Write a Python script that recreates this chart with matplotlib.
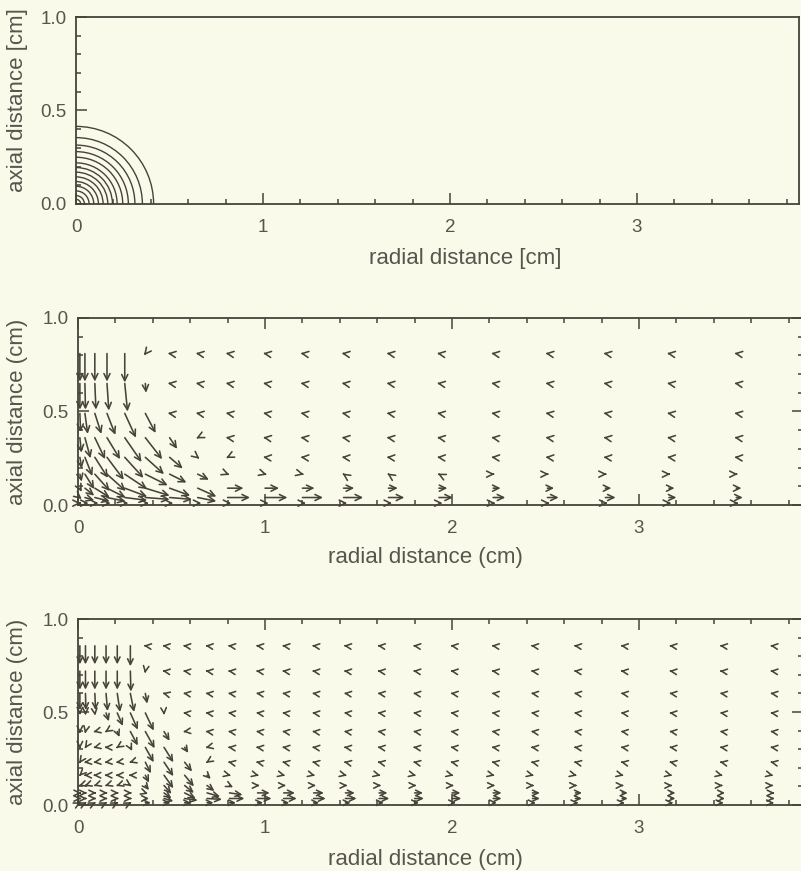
import matplotlib
matplotlib.use("Agg")
import matplotlib.pyplot as plt
from matplotlib.patches import Arc
from matplotlib.ticker import MultipleLocator

# ---------------- data ----------------
# panel 1: radii (cm) of the concentric quarter-circle contours
ring_radii = [0.415, 0.355, 0.315, 0.28, 0.25, 0.22, 0.195, 0.17, 0.145, 0.12, 0.095, 0.07, 0.045, 0.025]

# panel 2: coarse velocity field (arrow components in cm of plot length)
p2_r = [0.01, 0.037, 0.09, 0.155, 0.25, 0.36, 0.49, 0.64, 0.80, 1.00, 1.20, 1.42, 1.66, 1.93, 2.22, 2.51, 2.82, 3.16, 3.52]
p2_z = [0.81, 0.65, 0.49, 0.36, 0.255, 0.165, 0.09, 0.04, 0.01]
p2_u = [
    [0.0, 0.0, 0.0, 0.0, 0.0, -0.008, -0.010, -0.010, -0.010, -0.010, -0.010, -0.010, -0.010, -0.010, -0.010, -0.010, -0.010, -0.010, -0.010],
    [0.0, 0.003, 0.006, 0.010, 0.015, 0.004, -0.010, -0.010, -0.010, -0.010, -0.010, -0.010, -0.010, -0.010, -0.010, -0.010, -0.010, -0.010, -0.010],
    [0.004, 0.015, 0.035, 0.045, 0.060, 0.055, -0.010, -0.010, -0.010, -0.010, -0.010, -0.010, -0.010, -0.010, -0.010, -0.010, -0.010, -0.010, -0.010],
    [0.008, 0.030, 0.055, 0.070, 0.090, 0.090, 0.040, -0.008, -0.010, -0.010, -0.010, -0.010, -0.010, -0.010, -0.010, -0.010, -0.010, -0.010, -0.010],
    [0.010, 0.040, 0.070, 0.090, 0.100, 0.100, 0.070, 0.010, -0.008, -0.010, -0.010, -0.010, -0.010, -0.010, -0.010, -0.010, -0.010, -0.010, -0.010],
    [0.010, 0.050, 0.080, 0.100, 0.120, 0.120, 0.090, 0.060, 0.010, 0.010, 0.008, -0.006, -0.006, -0.006, 0.008, 0.008, 0.008, 0.008, 0.008],
    [0.010, 0.050, 0.080, 0.100, 0.120, 0.130, 0.110, 0.100, 0.085, 0.075, 0.065, 0.057, 0.050, 0.045, 0.040, 0.036, 0.032, 0.030, 0.028],
    [0.010, 0.050, 0.080, 0.100, 0.120, 0.130, 0.120, 0.100, 0.120, 0.120, 0.110, 0.105, 0.085, 0.075, 0.065, 0.060, 0.055, 0.040, 0.035],
    [0.005, 0.020, 0.020, 0.020, 0.020, 0.020, 0.020, 0.020, 0.020, 0.020, 0.020, 0.020, 0.020, 0.020, 0.012, 0.012, 0.012, 0.012, 0.012],
]
p2_w = [
    [-0.150, -0.150, -0.150, -0.150, -0.155, -0.010, 0.0015, 0.0015, 0.0015, 0.0015, 0.0015, 0.0015, 0.0015, 0.0015, 0.0015, 0.0015, 0.0015, 0.0015, 0.0015],
    [-0.140, -0.140, -0.140, -0.145, -0.150, -0.050, 0.0015, 0.0015, 0.0015, 0.0015, 0.0015, 0.0015, 0.0015, 0.0015, 0.0015, 0.0015, 0.0015, 0.0015, 0.0015],
    [-0.100, -0.110, -0.110, -0.115, -0.130, -0.105, 0.0015, 0.0015, 0.0015, 0.0015, 0.0015, 0.0015, 0.0015, 0.0015, 0.0015, 0.0015, 0.0015, 0.0015, 0.0015],
    [-0.080, -0.110, -0.115, -0.115, -0.130, -0.115, -0.060, -0.004, 0.0015, 0.0015, 0.0015, 0.0015, 0.0015, 0.0015, 0.0015, 0.0015, 0.0015, 0.0015, 0.0015],
    [-0.060, -0.100, -0.110, -0.120, -0.110, -0.090, -0.060, -0.008, -0.004, 0.001, 0.001, 0.001, 0.001, 0.001, 0.001, 0.001, 0.001, 0.001, 0.001],
    [-0.040, -0.080, -0.090, -0.090, -0.080, -0.060, -0.045, -0.030, -0.004, -0.003, -0.002, 0.004, 0.004, 0.003, 0.0, 0.0, 0.0, 0.0, 0.0],
    [-0.020, -0.040, -0.050, -0.050, -0.045, -0.040, -0.040, -0.045, 0.0, 0.0, 0.0, 0.0, 0.0, 0.0, 0.0, 0.0, 0.0, 0.0, 0.0],
    [-0.008, -0.015, -0.020, -0.020, -0.015, -0.010, -0.010, -0.020, 0.0, 0.0, 0.0, 0.0, 0.0, 0.0, 0.0, 0.0, 0.0, 0.0, 0.0],
    [0.0, 0.0, 0.0, 0.0, 0.0, 0.0, 0.0, 0.0, 0.0, 0.0, 0.0, 0.0, 0.0, 0.0, 0.0, 0.0, 0.0, 0.0, 0.0],
]

# panel 3: fine velocity field
p3_r = [0.01, 0.04, 0.09, 0.15, 0.21, 0.28, 0.36, 0.46, 0.57, 0.69, 0.81, 0.96, 1.10, 1.26, 1.43, 1.61, 1.80, 2.00, 2.22, 2.43, 2.66, 2.91, 3.17, 3.44, 3.71]
p3_z = [0.856, 0.72, 0.60, 0.495, 0.395, 0.31, 0.23, 0.16, 0.105, 0.065, 0.035, 0.012]
p3_u = [
    [0.0, 0.0, 0.0, 0.0, 0.0, 0.0, -0.008, -0.008, -0.008, -0.008, -0.008, -0.008, -0.008, -0.008, -0.008, -0.008, -0.008, -0.008, -0.008, -0.008, -0.008, -0.008, -0.008, -0.008, -0.008],
    [0.0, 0.0, 0.0, 0.0, 0.0, 0.003, -0.002, -0.008, -0.008, -0.008, -0.008, -0.008, -0.008, -0.008, -0.008, -0.008, -0.008, -0.008, -0.008, -0.008, -0.008, -0.008, -0.008, -0.008, -0.008],
    [0.0, 0.002, 0.004, 0.008, 0.015, 0.020, 0.010, -0.008, -0.008, -0.008, -0.008, -0.008, -0.008, -0.008, -0.008, -0.008, -0.008, -0.008, -0.008, -0.008, -0.008, -0.008, -0.008, -0.008, -0.008],
    [0.0, 0.0, 0.002, 0.015, 0.030, 0.040, 0.045, 0.001, -0.008, -0.008, -0.008, -0.008, -0.008, -0.008, -0.008, -0.008, -0.008, -0.008, -0.008, -0.008, -0.008, -0.008, -0.008, -0.008, -0.008],
    [0.0, -0.002, -0.008, -0.006, 0.012, 0.040, 0.050, 0.030, -0.008, -0.008, -0.008, -0.008, -0.008, -0.008, -0.008, -0.008, -0.008, -0.008, -0.008, -0.008, -0.008, -0.008, -0.008, -0.008, -0.008],
    [0.0, -0.004, -0.008, -0.008, -0.006, 0.010, 0.045, 0.050, 0.020, -0.008, -0.008, -0.008, -0.008, -0.008, -0.008, -0.008, -0.008, -0.008, -0.008, -0.008, -0.008, -0.008, -0.008, -0.008, -0.008],
    [-0.004, -0.008, -0.008, -0.008, -0.008, -0.006, 0.030, 0.050, 0.040, -0.006, -0.008, -0.008, -0.008, -0.008, -0.008, -0.008, -0.008, -0.008, -0.008, -0.008, -0.008, -0.008, -0.008, -0.008, -0.008],
    [-0.004, -0.008, -0.008, -0.008, -0.008, -0.008, 0.020, 0.050, 0.050, 0.020, 0.008, 0.008, 0.008, 0.008, 0.008, 0.008, 0.008, 0.008, 0.008, 0.008, 0.008, 0.008, 0.008, 0.008, 0.008],
    [-0.006, -0.006, -0.006, -0.006, -0.006, 0.006, 0.020, 0.040, 0.050, 0.040, 0.020, 0.012, 0.012, 0.012, 0.011, 0.011, 0.010, 0.010, 0.010, 0.009, 0.009, 0.008, 0.008, 0.008, 0.008],
    [0.008, 0.008, 0.008, 0.008, 0.008, 0.008, 0.015, 0.040, 0.060, 0.070, 0.070, 0.065, 0.060, 0.055, 0.050, 0.045, 0.045, 0.045, 0.045, 0.040, 0.035, 0.030, 0.025, 0.020, 0.015],
    [0.008, 0.008, 0.008, 0.008, 0.008, 0.008, 0.020, 0.050, 0.070, 0.080, 0.080, 0.075, 0.070, 0.065, 0.060, 0.055, 0.050, 0.050, 0.045, 0.040, 0.035, 0.030, 0.025, 0.020, 0.015],
    [0.006, 0.006, 0.006, 0.006, 0.006, 0.006, 0.030, 0.035, 0.035, 0.035, 0.035, 0.030, 0.030, 0.030, 0.028, 0.026, 0.024, 0.022, 0.020, 0.018, 0.016, 0.014, 0.013, 0.012, 0.012],
]
p3_w = [
    [-0.100, -0.100, -0.100, -0.100, -0.100, -0.110, 0.001, 0.001, 0.001, 0.001, 0.001, 0.001, 0.001, 0.001, 0.001, 0.001, 0.001, 0.001, 0.001, 0.001, 0.001, 0.001, 0.001, 0.001, 0.001],
    [-0.100, -0.100, -0.100, -0.100, -0.100, -0.110, -0.012, 0.001, 0.001, 0.001, 0.001, 0.001, 0.001, 0.001, 0.001, 0.001, 0.001, 0.001, 0.001, 0.001, 0.001, 0.001, 0.001, 0.001, 0.001],
    [-0.090, -0.090, -0.090, -0.095, -0.100, -0.100, -0.055, 0.002, 0.001, 0.001, 0.001, 0.001, 0.001, 0.001, 0.001, 0.001, 0.001, 0.001, 0.001, 0.001, 0.001, 0.001, 0.001, 0.001, 0.001],
    [-0.010, -0.012, -0.015, -0.045, -0.070, -0.090, -0.095, -0.012, 0.001, 0.001, 0.001, 0.001, 0.001, 0.001, 0.001, 0.001, 0.001, 0.001, 0.001, 0.001, 0.001, 0.001, 0.001, 0.001, 0.001],
    [-0.010, -0.010, -0.002, -0.004, -0.030, -0.075, -0.090, -0.050, -0.001, 0.001, 0.001, 0.001, 0.001, 0.001, 0.001, 0.001, 0.001, 0.001, 0.001, 0.001, 0.001, 0.001, 0.001, 0.001, 0.001],
    [-0.008, -0.006, -0.002, 0.0, -0.004, -0.020, -0.080, -0.080, -0.030, -0.002, 0.001, 0.001, 0.001, 0.001, 0.001, 0.001, 0.001, 0.001, 0.001, 0.001, 0.001, 0.001, 0.001, 0.001, 0.001],
    [-0.006, -0.001, -0.001, -0.001, -0.001, -0.002, -0.060, -0.075, -0.050, -0.004, 0.0015, 0.0015, 0.0015, 0.0015, 0.0015, 0.0015, 0.0015, 0.0015, 0.0015, 0.0015, 0.0015, 0.0015, 0.0015, 0.0015, 0.0015],
    [-0.004, 0.0, 0.0, 0.0, 0.0, 0.0, -0.040, -0.070, -0.060, -0.020, -0.002, -0.002, -0.002, -0.002, -0.002, -0.002, -0.002, -0.002, -0.002, -0.002, -0.002, -0.002, -0.002, -0.002, -0.002],
    [-0.002, -0.002, -0.002, -0.002, -0.002, -0.004, -0.025, -0.045, -0.040, -0.030, -0.010, 0.0, 0.0, 0.0, 0.0, 0.0, 0.0, 0.0, 0.0, 0.0, 0.0, 0.0, 0.0, 0.0, 0.0],
    [0.0, 0.0, 0.0, 0.0, 0.0, 0.0, -0.005, -0.030, -0.030, -0.020, -0.010, 0.0, 0.0, 0.0, 0.0, 0.0, 0.0, 0.0, 0.0, 0.0, 0.0, 0.0, 0.0, 0.0, 0.0],
    [0.0, 0.0, 0.0, 0.0, 0.0, 0.0, 0.0, -0.015, -0.010, -0.005, 0.0, 0.0, 0.0, 0.0, 0.0, 0.0, 0.0, 0.0, 0.0, 0.0, 0.0, 0.0, 0.0, 0.0, 0.0],
    [0.003, 0.003, 0.003, 0.003, 0.003, 0.003, 0.0, 0.0, 0.0, 0.0, 0.0, 0.0, 0.0, 0.0, 0.0, 0.0, 0.0, 0.0, 0.0, 0.0, 0.0, 0.0, 0.0, 0.0, 0.0],
]

x_ticks = [0, 1, 2, 3]
y_ticks = [0.0, 0.5, 1.0]
x_ticklabels = ["0", "1", "2", "3"]
y_ticklabels = ["0.0", "0.5", "1.0"]

# ---------------- style ----------------
BG = "#fafaeb"
INK = "#46433a"
TXT = "#57554c"
plt.rcParams["font.family"] = ["Liberation Sans", "DejaVu Sans"]

W, H = 801, 871
fig = plt.figure(figsize=(W / 100, H / 100), dpi=100, facecolor=BG)


def px_axes(left, right, top, bottom):
    return fig.add_axes([left / W, 1 - bottom / H, (right - left) / W, (bottom - top) / H])


def style_axes(ax, xmax, all_sides):
    ax.set_facecolor(BG)
    ax.set_xlim(0, xmax)
    ax.set_ylim(0, 1.0)
    ax.set_xticks(x_ticks)
    ax.set_xticklabels(x_ticklabels)
    ax.set_yticks(y_ticks)
    ax.set_yticklabels(y_ticklabels)
    ax.xaxis.set_minor_locator(MultipleLocator(0.2))
    ax.yaxis.set_minor_locator(MultipleLocator(0.1))
    ax.tick_params(which="both", direction="in", color=INK, width=1.1,
                   top=all_sides, right=all_sides, labelsize=13.5, labelcolor=TXT)
    ax.tick_params(axis="x", which="both", pad=11)
    ax.tick_params(axis="y", which="both", pad=7)
    ax.tick_params(which="major", length=8)
    ax.tick_params(which="minor", length=3.8)
    for s in ax.spines.values():
        s.set_color(INK)
        s.set_linewidth(1.3)


def draw_field(ax, rs, zs, us, ws, ms):
    for i, z in enumerate(zs):
        for j, r in enumerate(rs):
            u = us[i][j]
            w = ws[i][j]
            ax.annotate("", xy=(r + u, z + w), xytext=(r, z), xycoords="data",
                        annotation_clip=False,
                        arrowprops=dict(arrowstyle="->,head_length=0.45,head_width=0.22",
                                        color=INK, lw=1.15, shrinkA=0, shrinkB=0,
                                        mutation_scale=ms, clip_on=True))


# ---------- panel 1 ----------
ax1 = px_axes(76, 799, 17, 204)
style_axes(ax1, (799 - 76) / 187.0, False)
for rad in ring_radii:
    ax1.add_patch(Arc((0, 0), 2 * rad, 2 * rad, theta1=0, theta2=90, color=INK, lw=1.0))
ax1.set_xlabel("radial distance [cm]", fontsize=16, color=TXT)
ax1.set_ylabel("axial distance [cm]", fontsize=16, color=TXT)
ax1.xaxis.set_label_coords((465 - 76) / 723.0, (204 - 248) / 187.0)
ax1.yaxis.set_label_coords((28 - 76) / 723.0, (204 - 100) / 187.0)

# ---------- panel 2 ----------
ax2 = px_axes(78, 803, 318, 505)
style_axes(ax2, (803 - 78) / 187.0, True)
draw_field(ax2, p2_r, p2_z, p2_u, p2_w, 10)
ax2.set_xlabel("radial distance (cm)", fontsize=16, color=TXT)
ax2.set_ylabel("axial distance (cm)", fontsize=16, color=TXT)
ax2.xaxis.set_label_coords((425 - 78) / 725.0, (505 - 547) / 187.0)
ax2.yaxis.set_label_coords((28 - 78) / 725.0, 0.5)

# ---------- panel 3 ----------
ax3 = px_axes(78, 803, 619, 805)
style_axes(ax3, (803 - 78) / 187.0, True)
draw_field(ax3, p3_r, p3_z, p3_u, p3_w, 9)
ax3.set_xlabel("radial distance (cm)", fontsize=16, color=TXT)
ax3.set_ylabel("axial distance (cm)", fontsize=16, color=TXT)
ax3.xaxis.set_label_coords((425 - 78) / 725.0, (805 - 849) / 187.0)
ax3.yaxis.set_label_coords((28 - 78) / 725.0, 0.5)

fig.savefig("out.png", dpi=100, facecolor=BG)
